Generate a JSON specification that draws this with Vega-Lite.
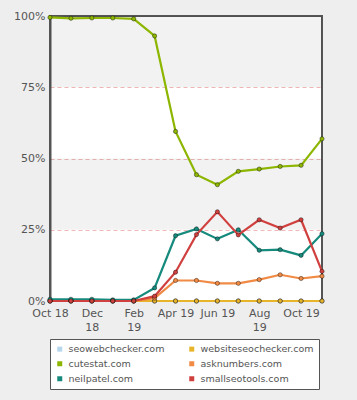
{
  "$schema": "https://vega.github.io/schema/vega-lite/v6.json",
  "width": 272,
  "height": 285,
  "autosize": {"type": "none"},
  "padding": {"left": 50, "top": 16, "right": 35, "bottom": 99},
  "background": "#eeeeee",
  "config": {
    "view": {"stroke": "#555555", "strokeWidth": 2, "fill": "#ffffff"},
    "font": "DejaVu Sans"
  },
  "layer": [
    {
      "data": {"values": [{"lo": 75, "hi": 100}, {"lo": 25, "hi": 50}]},
      "mark": {"type": "rect", "fill": "#000000", "opacity": 0.05},
      "encoding": {
        "y": {"field": "lo", "type": "quantitative", "scale": {"domain": [0, 100]}},
        "y2": {"field": "hi"}
      }
    },
    {
      "data": {"values": [
        {"month": "Oct 18", "site": "seowebchecker.com", "value": 0},
        {"month": "Nov 18", "site": "seowebchecker.com", "value": 0},
        {"month": "Dec 18", "site": "seowebchecker.com", "value": 0},
        {"month": "Jan 19", "site": "seowebchecker.com", "value": 0},
        {"month": "Feb 19", "site": "seowebchecker.com", "value": 0},
        {"month": "Mar 19", "site": "seowebchecker.com", "value": 0},
        {"month": "Apr 19", "site": "seowebchecker.com", "value": 0},
        {"month": "May 19", "site": "seowebchecker.com", "value": 0},
        {"month": "Jun 19", "site": "seowebchecker.com", "value": 0},
        {"month": "Jul 19", "site": "seowebchecker.com", "value": 0},
        {"month": "Aug 19", "site": "seowebchecker.com", "value": 0},
        {"month": "Sep 19", "site": "seowebchecker.com", "value": 0},
        {"month": "Oct 19", "site": "seowebchecker.com", "value": 0},
        {"month": "Nov 19", "site": "seowebchecker.com", "value": 0},
        {"month": "Oct 18", "site": "websiteseochecker.com", "value": 0},
        {"month": "Nov 18", "site": "websiteseochecker.com", "value": 0},
        {"month": "Dec 18", "site": "websiteseochecker.com", "value": 0},
        {"month": "Jan 19", "site": "websiteseochecker.com", "value": 0},
        {"month": "Feb 19", "site": "websiteseochecker.com", "value": 0},
        {"month": "Mar 19", "site": "websiteseochecker.com", "value": 0},
        {"month": "Apr 19", "site": "websiteseochecker.com", "value": 0},
        {"month": "May 19", "site": "websiteseochecker.com", "value": 0},
        {"month": "Jun 19", "site": "websiteseochecker.com", "value": 0},
        {"month": "Jul 19", "site": "websiteseochecker.com", "value": 0},
        {"month": "Aug 19", "site": "websiteseochecker.com", "value": 0},
        {"month": "Sep 19", "site": "websiteseochecker.com", "value": 0},
        {"month": "Oct 19", "site": "websiteseochecker.com", "value": 0},
        {"month": "Nov 19", "site": "websiteseochecker.com", "value": 0},
        {"month": "Oct 18", "site": "cutestat.com", "value": 99.5},
        {"month": "Nov 18", "site": "cutestat.com", "value": 99.2},
        {"month": "Dec 18", "site": "cutestat.com", "value": 99.3},
        {"month": "Jan 19", "site": "cutestat.com", "value": 99.3},
        {"month": "Feb 19", "site": "cutestat.com", "value": 99.0},
        {"month": "Mar 19", "site": "cutestat.com", "value": 93.0},
        {"month": "Apr 19", "site": "cutestat.com", "value": 59.5},
        {"month": "May 19", "site": "cutestat.com", "value": 44.3},
        {"month": "Jun 19", "site": "cutestat.com", "value": 40.8},
        {"month": "Jul 19", "site": "cutestat.com", "value": 45.5},
        {"month": "Aug 19", "site": "cutestat.com", "value": 46.3},
        {"month": "Sep 19", "site": "cutestat.com", "value": 47.2},
        {"month": "Oct 19", "site": "cutestat.com", "value": 47.6},
        {"month": "Nov 19", "site": "cutestat.com", "value": 56.9},
        {"month": "Oct 18", "site": "asknumbers.com", "value": 0},
        {"month": "Nov 18", "site": "asknumbers.com", "value": 0},
        {"month": "Dec 18", "site": "asknumbers.com", "value": 0},
        {"month": "Jan 19", "site": "asknumbers.com", "value": 0},
        {"month": "Feb 19", "site": "asknumbers.com", "value": 0},
        {"month": "Mar 19", "site": "asknumbers.com", "value": 1.0},
        {"month": "Apr 19", "site": "asknumbers.com", "value": 7.2},
        {"month": "May 19", "site": "asknumbers.com", "value": 7.2},
        {"month": "Jun 19", "site": "asknumbers.com", "value": 6.2},
        {"month": "Jul 19", "site": "asknumbers.com", "value": 6.2},
        {"month": "Aug 19", "site": "asknumbers.com", "value": 7.5},
        {"month": "Sep 19", "site": "asknumbers.com", "value": 9.2},
        {"month": "Oct 19", "site": "asknumbers.com", "value": 7.9},
        {"month": "Nov 19", "site": "asknumbers.com", "value": 8.7},
        {"month": "Oct 18", "site": "neilpatel.com", "value": 0.6},
        {"month": "Nov 18", "site": "neilpatel.com", "value": 0.6},
        {"month": "Dec 18", "site": "neilpatel.com", "value": 0.6},
        {"month": "Jan 19", "site": "neilpatel.com", "value": 0.4},
        {"month": "Feb 19", "site": "neilpatel.com", "value": 0.4},
        {"month": "Mar 19", "site": "neilpatel.com", "value": 4.6},
        {"month": "Apr 19", "site": "neilpatel.com", "value": 22.9},
        {"month": "May 19", "site": "neilpatel.com", "value": 25.3},
        {"month": "Jun 19", "site": "neilpatel.com", "value": 21.8},
        {"month": "Jul 19", "site": "neilpatel.com", "value": 25.0},
        {"month": "Aug 19", "site": "neilpatel.com", "value": 17.8},
        {"month": "Sep 19", "site": "neilpatel.com", "value": 18.0},
        {"month": "Oct 19", "site": "neilpatel.com", "value": 16.0},
        {"month": "Nov 19", "site": "neilpatel.com", "value": 23.6},
        {"month": "Oct 18", "site": "smallseotools.com", "value": 0},
        {"month": "Nov 18", "site": "smallseotools.com", "value": 0},
        {"month": "Dec 18", "site": "smallseotools.com", "value": 0},
        {"month": "Jan 19", "site": "smallseotools.com", "value": 0},
        {"month": "Feb 19", "site": "smallseotools.com", "value": 0},
        {"month": "Mar 19", "site": "smallseotools.com", "value": 1.7},
        {"month": "Apr 19", "site": "smallseotools.com", "value": 10.1},
        {"month": "May 19", "site": "smallseotools.com", "value": 23.3},
        {"month": "Jun 19", "site": "smallseotools.com", "value": 31.3},
        {"month": "Jul 19", "site": "smallseotools.com", "value": 23.2},
        {"month": "Aug 19", "site": "smallseotools.com", "value": 28.5},
        {"month": "Sep 19", "site": "smallseotools.com", "value": 25.6},
        {"month": "Oct 19", "site": "smallseotools.com", "value": 28.5},
        {"month": "Nov 19", "site": "smallseotools.com", "value": 10.4}
      ]},
      "encoding": {
        "x": {
          "field": "month", "type": "ordinal", "sort": null,
          "scale": {"type": "point", "padding": 0},
          "axis": {
            "title": null, "labelAngle": 0, "ticks": false, "domain": false,
            "labelColor": "#555555", "labelFontSize": 11, "labelPadding": 6,
            "labelLineHeight": 14, "labelOverlap": false,
            "labelExpr": "indexof(['Oct 18','Apr 19','Jun 19','Oct 19'], datum.value) >= 0 ? datum.value : (indexof(['Dec 18','Feb 19','Aug 19'], datum.value) >= 0 ? split(datum.value, ' ') : '')"
          }
        },
        "y": {
          "field": "value", "type": "quantitative",
          "scale": {"domain": [0, 100]},
          "axis": {
            "title": null, "values": [0, 25, 50, 75, 100], "ticks": false,
            "domainColor": "#555555", "domainWidth": 2,
            "labelColor": "#555555", "labelFontSize": 11, "labelPadding": 5,
            "labelExpr": "datum.value + '%'",
            "gridColor": {"condition": {"test": "datum.value == 100 || datum.value == 0", "value": "transparent"}, "value": "#f0b8b8"},
            "gridDash": [4, 3], "gridWidth": 1
          }
        },
        "color": {
          "field": "site", "type": "nominal",
          "scale": {
            "domain": ["seowebchecker.com", "cutestat.com", "neilpatel.com", "websiteseochecker.com", "asknumbers.com", "smallseotools.com"],
            "range": ["#b6d7ee", "#8db600", "#168a7c", "#e8b42a", "#f08a44", "#d0403f"]
          },
          "legend": {
            "title": null, "orient": "none", "legendX": 0, "legendY": 323,
            "columns": 2, "columnPadding": 22, "rowPadding": 4,
            "symbolType": "square", "symbolSize": 25, "symbolStrokeWidth": 0,
            "labelFontSize": 9.5, "labelColor": "#555555",
            "fillColor": "#ffffff", "strokeColor": "#555555", "padding": 5
          }
        }
      },
      "layer": [
        {"mark": {"type": "line", "strokeWidth": 2.2}},
        {"mark": {"type": "point", "filled": true, "size": 18, "opacity": 1, "stroke": "#000000", "strokeOpacity": 0.4, "strokeWidth": 1}}
      ]
    }
  ]
}
